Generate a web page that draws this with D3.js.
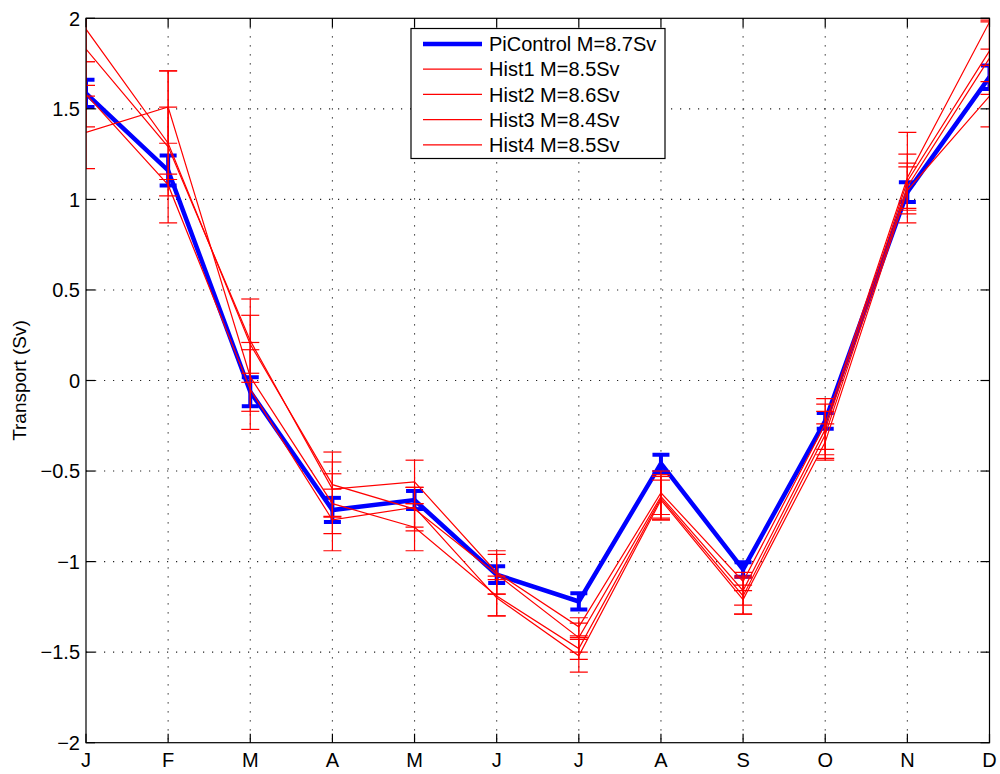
<!DOCTYPE html>
<html>
<head>
<meta charset="utf-8">
<script src="https://cdn.jsdelivr.net/npm/d3@7"></script>
<style>
  body { margin: 0; background: #fff; }
  svg { display: block; font-family: "Liberation Sans", Arial, Helvetica, sans-serif; }
</style>
</head>
<body>
<svg id="chart" width="1000" height="774"></svg>
<script>
// ---- data ----
const months = ["J","F","M","A","M","J","J","A","S","O","N","D"];
const yTicks = [-2,-1.5,-1,-0.5,0,0.5,1,1.5,2];
const yTickLabels = ["\u22122","\u22121.5","\u22121","\u22120.5","0","0.5","1","1.5","2"];

const piControl    = [1.585, 1.16, -0.062, -0.715, -0.66, -1.072, -1.22, -0.458, -1.043, -0.223, 1.04, 1.675];
const piControlErr = [0.075, 0.083, 0.08, 0.067, 0.05, 0.046, 0.045, 0.048, 0.04, 0.044, 0.055, 0.065];

const hist1    = [1.94, 1.31, 0.20, -0.575, -0.71, -1.07, -1.42, -0.64, -1.16, -0.27, 1.10, 1.82];
const hist1Err = [0.18, 0.20, 0.16, 0.18, 0.12, 0.11, 0.08, 0.12, 0.08, 0.14, 0.15, 0.17];
const hist2    = [1.83, 1.29, 0.22, -0.60, -0.56, -1.06, -1.36, -0.62, -1.11, -0.24, 1.12, 1.98];
const hist2Err = [0.20, 0.42, 0.23, 0.15, 0.12, 0.12, 0.05, 0.12, 0.05, 0.14, 0.25, 0.15];
const hist3    = [1.58, 1.08, -0.05, -0.77, -0.70, -1.20, -1.52, -0.66, -1.21, -0.34, 1.05, 1.57];
const hist3Err = [0.18, 0.06, 0.22, 0.17, 0.11, 0.10, 0.09, 0.11, 0.08, 0.10, 0.13, 0.17];
const hist4    = [1.37, 1.51, 0.02, -0.68, -0.81, -1.19, -1.48, -0.65, -1.19, -0.30, 1.07, 1.78];
const hist4Err = [0.20, 0.20, 0.19, 0.165, 0.13, 0.11, 0.06, 0.12, 0.10, 0.13, 0.13, 0.20];

const legendLabels = ["PiControl M=8.7Sv","Hist1 M=8.5Sv","Hist2 M=8.6Sv","Hist3 M=8.4Sv","Hist4 M=8.5Sv"];

// ---- layout ----
const L = 86, R = 989.5, T = 18.3, B = 742.7;
const svg = d3.select("#chart");
const idx = d3.range(months.length);
const x = d3.scaleLinear().domain([0, months.length - 1]).range([L, R]);
const y = d3.scaleLinear().domain([-2, 2]).range([B, T]);

// grid
const grid = svg.append("g").attr("stroke", "#222").attr("stroke-width", 1.1).attr("stroke-dasharray", "1.2,7.8");
grid.selectAll(".vg").data(idx.slice(1, -1)).join("line")
  .attr("x1", d => x(d)).attr("x2", d => x(d)).attr("y1", T).attr("y2", B);
grid.selectAll(".hg").data(yTicks.slice(1, -1)).join("line")
  .attr("x1", L).attr("x2", R).attr("y1", d => y(d)).attr("y2", d => y(d));

// clip
svg.append("clipPath").attr("id", "clip").append("rect")
  .attr("x", L).attr("y", T).attr("width", R - L).attr("height", B - T);
const plot = svg.append("g").attr("clip-path", "url(#clip)");

function drawSeries(vals, errs, color, lw, ew, capHalf) {
  const g = plot.append("g");
  g.append("path").datum(idx)
    .attr("fill", "none").attr("stroke", color).attr("stroke-width", lw)
    .attr("stroke-linejoin", "miter")
    .attr("d", d3.line().x(i => x(i)).y(i => y(vals[i])));
  const eb = g.selectAll(".eb").data(idx).join("g").attr("stroke", color).attr("stroke-width", ew);
  eb.append("line").attr("x1", i => x(i)).attr("x2", i => x(i))
    .attr("y1", i => y(vals[i] - errs[i])).attr("y2", i => y(vals[i] + errs[i]));
  eb.append("line").attr("x1", i => x(i) - capHalf).attr("x2", i => x(i) + capHalf)
    .attr("y1", i => y(vals[i] + errs[i])).attr("y2", i => y(vals[i] + errs[i]));
  eb.append("line").attr("x1", i => x(i) - capHalf).attr("x2", i => x(i) + capHalf)
    .attr("y1", i => y(vals[i] - errs[i])).attr("y2", i => y(vals[i] - errs[i]));
}

drawSeries(piControl, piControlErr, "#0000ff", 4.5, 4, 8.5);
drawSeries(hist1, hist1Err, "#ff0000", 1.2, 1.2, 9);
drawSeries(hist2, hist2Err, "#ff0000", 1.2, 1.2, 9);
drawSeries(hist3, hist3Err, "#ff0000", 1.2, 1.2, 9);
drawSeries(hist4, hist4Err, "#ff0000", 1.2, 1.2, 9);

// axes box & ticks
const axG = svg.append("g").attr("stroke", "#000").attr("stroke-width", 1.2);
axG.append("rect").attr("x", L).attr("y", T).attr("width", R - L).attr("height", B - T).attr("fill", "none");
const tl = 9;
axG.selectAll(".xtb").data(idx).join("line").attr("x1", d => x(d)).attr("x2", d => x(d)).attr("y1", B).attr("y2", B - tl);
axG.selectAll(".xtt").data(idx).join("line").attr("x1", d => x(d)).attr("x2", d => x(d)).attr("y1", T).attr("y2", T + tl);
axG.selectAll(".ytl").data(yTicks).join("line").attr("x1", L).attr("x2", L + tl).attr("y1", d => y(d)).attr("y2", d => y(d));
axG.selectAll(".ytr").data(yTicks).join("line").attr("x1", R).attr("x2", R - tl).attr("y1", d => y(d)).attr("y2", d => y(d));

// tick labels
svg.append("g").selectAll("text").data(yTicks).join("text")
  .attr("x", L - 6).attr("y", d => y(d)).attr("dy", "0.36em")
  .attr("text-anchor", "end").attr("font-size", 20).attr("fill", "#000")
  .text((d, i) => yTickLabels[i]);
svg.append("g").selectAll("text").data(idx).join("text")
  .attr("x", d => x(d)).attr("y", 767)
  .attr("text-anchor", "middle").attr("font-size", 20).attr("fill", "#000")
  .text(d => months[d]);

// y label
svg.append("text").attr("transform", `translate(26,${(T + B) / 2}) rotate(-90)`)
  .attr("text-anchor", "middle").attr("font-size", 19).attr("fill", "#000")
  .text("Transport (Sv)");

// legend
const lg = svg.append("g");
lg.append("rect").attr("x", 411).attr("y", 28.5).attr("width", 254).attr("height", 130)
  .attr("fill", "#fff").attr("stroke", "#000").attr("stroke-width", 1.2);
const rows = lg.selectAll(".row").data(legendLabels).join("g")
  .attr("transform", (d, i) => `translate(0,${44 + i * 25.2})`);
rows.append("line").attr("x1", 423).attr("x2", 482).attr("y1", 0).attr("y2", 0)
  .attr("stroke", (d, i) => i === 0 ? "#0000ff" : "#ff0000")
  .attr("stroke-width", (d, i) => i === 0 ? 4.5 : 1.2);
rows.append("text").attr("x", 489).attr("y", 0).attr("dy", "0.36em")
  .attr("font-size", 20).attr("fill", "#000").text(d => d);
</script>
</body>
</html>
